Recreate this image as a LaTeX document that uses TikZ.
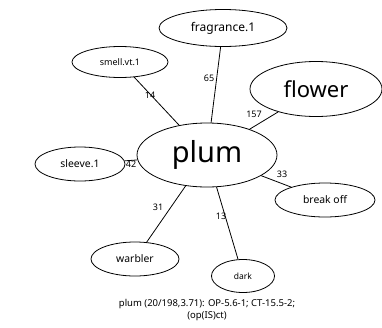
\documentclass[tikz,border=0pt]{standalone}
\usepackage{fontspec}
\setmainfont{Noto Sans}
\usetikzlibrary{shapes.geometric}
\begin{document}
\begin{tikzpicture}[x=1pt,y=-1pt,
  ell/.style={draw, ellipse, line width=0.8pt, inner sep=0pt},
  edge/.style={draw, line width=0.8pt},
  lab/.style={font=\fontsize{9}{10}\selectfont, inner sep=0pt}]
\useasboundingbox (0,0) rectangle (382,327);
\node[ell, minimum width=128pt, minimum height=37pt, font=\fontsize{12}{14}\selectfont] (fragrance) at (223,28) {fragrance.1};
\node[ell, minimum width=96pt, minimum height=31pt, font=\fontsize{9}{10}\selectfont] (smell) at (120,62) {smell.vt.1};
\node[ell, minimum width=132pt, minimum height=55pt, font=\fontsize{22}{26}\selectfont] (flower) at (316,89) {flower};
\node[ell, minimum width=140pt, minimum height=64pt, font=\fontsize{29}{34}\selectfont] (plum) at (207,155) {plum};
\node[ell, minimum width=90pt, minimum height=34pt, font=\fontsize{10.4}{12}\selectfont] (sleeve) at (80,164) {sleeve.1};
\node[ell, minimum width=100pt, minimum height=34pt, font=\fontsize{10.4}{12}\selectfont] (breakoff) at (325,200) {break off};
\node[ell, minimum width=88pt, minimum height=34pt, font=\fontsize{10.4}{12}\selectfont] (warbler) at (135,259) {warbler};
\node[ell, minimum width=63pt, minimum height=33pt, font=\fontsize{8.5}{10}\selectfont] (dark) at (243,276) {dark};
\draw[edge] (plum) -- (fragrance);
\draw[edge] (plum) -- (smell);
\draw[edge] (plum) -- (flower);
\draw[edge] (plum) -- (sleeve);
\draw[edge] (plum) -- (breakoff);
\draw[edge] (plum) -- (warbler);
\draw[edge] (plum) -- (dark);
\node[lab] (l65) at (209,78) {65};
\node[lab] (l14) at (150,95) {14};
\node[lab] (l157) at (254,114) {157};
\node[lab] (l42) at (131,164) {42};
\node[lab] (l33) at (282,174) {33};
\node[lab] (l31) at (158,207) {31};
\node[lab] (l13) at (221,216) {13};
\node[font=\fontsize{9.5}{12}\selectfont, align=center, inner sep=0pt] (cap) at (207,310) {plum (20/198,3.71): OP-5.6-1; CT-15.5-2;\\(op(IS)ct)};
\end{tikzpicture}
\end{document}
